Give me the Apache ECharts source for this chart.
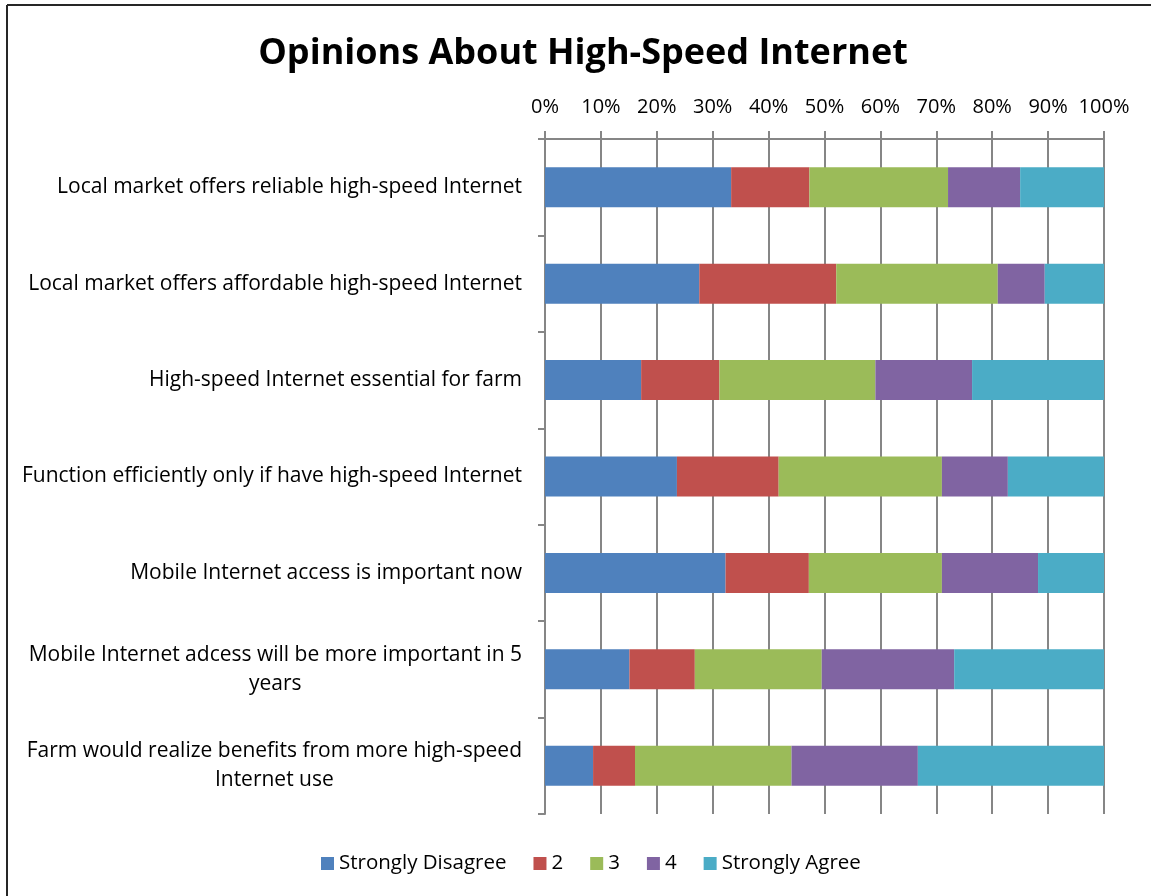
<!DOCTYPE html>
<html>
<head>
<meta charset="utf-8">
<script src="https://cdn.jsdelivr.net/npm/echarts@6/dist/echarts.min.js"></script>
<style>
html,body{margin:0;padding:0;background:#fff;}
#chart{width:1151px;height:896px;}
</style>
</head>
<body>
<div id="chart"></div>
<script>
const categories = [
  "Local market offers reliable high-speed Internet",
  "Local market offers affordable high-speed Internet",
  "High-speed Internet essential for farm",
  "Function efficiently only if have high-speed Internet",
  "Mobile Internet access is important now",
  "Mobile Internet adcess will be more important in 5\nyears",
  "Farm would realize benefits from more high-speed\nInternet use"
];
const seriesNames = ["Strongly Disagree", "2", "3", "4", "Strongly Agree"];
const stronglyDisagree = [33.3, 27.6, 17.2, 23.6, 32.3, 15.1, 8.6];
const rating2 = [14.0, 24.5, 14.0, 18.2, 14.9, 11.7, 7.5];
const rating3 = [24.8, 28.9, 27.9, 29.2, 23.8, 22.7, 28.0];
const rating4 = [12.9, 8.4, 17.3, 11.8, 17.2, 23.7, 22.6];
const stronglyAgree = [15.0, 10.6, 23.6, 17.2, 11.8, 26.8, 33.3];
const colors = ["#4F81BD", "#C0504D", "#9BBB59", "#8064A2", "#4BACC6"];

const allValues = [stronglyDisagree, rating2, rating3, rating4, stronglyAgree];
const FONT = "Open Sans";

const chart = echarts.init(document.getElementById('chart'), null, {renderer: 'canvas'});
const option = {
  animation: false,
  backgroundColor: '#ffffff',
  graphic: [
    {type: 'line', shape: {x1: 7, y1: 5, x2: 1151, y2: 5}, style: {stroke: '#262626', lineWidth: 2}},
    {type: 'line', shape: {x1: 7, y1: 5, x2: 7, y2: 896}, style: {stroke: '#262626', lineWidth: 2}}
  ],
  title: {
    text: 'Opinions About High-Speed Internet',
    left: 578,
    textAlign: 'center',
    top: 31,
    textStyle: {fontFamily: FONT, fontSize: 36, fontWeight: 'bold', color: '#000'}
  },
  legend: {
    bottom: 17,
    left: 316,
    itemWidth: 13,
    itemHeight: 13,
    itemGap: 27,
    icon: 'rect',
    textStyle: {fontFamily: FONT, fontSize: 20.5, color: '#000'},
    data: seriesNames
  },
  grid: {left: 545, right: 47, top: 139, bottom: 82, containLabel: false},
  xAxis: {
    type: 'value',
    position: 'top',
    min: 0,
    max: 100,
    interval: 10,
    axisLine: {show: true, lineStyle: {color: '#868686', width: 2}},
    axisTick: {show: true, length: 8, lineStyle: {color: '#868686', width: 2}},
    splitLine: {show: true, lineStyle: {color: '#868686', width: 2}},
    axisLabel: {formatter: '{value}%', fontFamily: FONT, fontSize: 20, color: '#000', margin: 22}
  },
  yAxis: {
    type: 'category',
    inverse: true,
    data: categories,
    axisLine: {show: true, lineStyle: {color: '#868686', width: 2}},
    axisTick: {show: true, length: 7, lineStyle: {color: '#868686', width: 2}},
    axisLabel: {
      fontFamily: FONT, fontSize: 21, color: '#000', margin: 23, lineHeight: 29,
      formatter: function (v) { return v.split('\n').map(s => '{c|' + s + '}').join('\n'); },
      rich: {c: {align: 'center', fontFamily: FONT, fontSize: 21, color: '#000', lineHeight: 29}}
    }
  },
  series: seriesNames.map((name, i) => ({
    name: name,
    type: 'bar',
    stack: 'total',
    barWidth: 40,
    itemStyle: {color: colors[i]},
    data: allValues[i]
  }))
};
chart.setOption(option);
</script>
</body>
</html>
